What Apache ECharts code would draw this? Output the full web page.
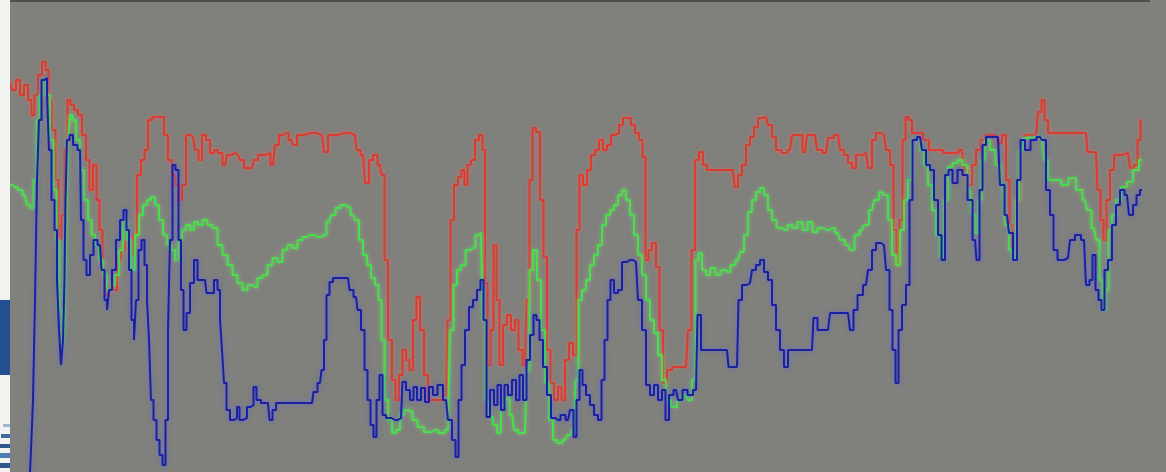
<!DOCTYPE html>
<html>
<head>
<meta charset="utf-8">
<script src="https://cdn.jsdelivr.net/npm/echarts@6/dist/echarts.min.js"></script>
<style>
html,body{margin:0;padding:0;background:#80807c;}
#c{width:1166px;height:472px;}
</style>
</head>
<body>
<div id="c"></div>
<script>
// Readings: x position (time index) and level (inverted scale, 0 = top)
const redX = [10,14,18,22,26,30,33,36,40,44,47,50,54,57,60,63,66,69,72,76,80,84,88,91,95,98,101,104,107,111,115,119,123,127,131,135,139,143,146,150,154,158,162,166,170,174,177,180,184,188,193,197,200,204,208,212,216,220,225,229,233,238,242,246,252,256,260,264,268,273,277,281,286,291,295,299,310,322,326,330,345,355,358,363,367,371,375,380,383,386,390,394,397,401,404,408,411,415,418,422,426,430,440,446,449,452,456,460,463,466,469,473,477,481,484,486,489,492,495,498,501,505,509,513,517,520,525,528,531,534,538,542,545,549,552,556,560,563,567,571,575,578,581,585,589,593,597,601,605,609,613,617,621,625,629,633,637,641,644,647,650,654,658,661,665,669,675,686,690,693,697,701,705,709,720,733,736,740,744,748,752,756,760,766,770,774,778,785,790,794,800,805,809,815,819,826,830,838,842,846,850,854,858,866,870,874,878,884,888,892,895,898,901,904,907,910,914,920,926,932,940,946,955,962,966,970,974,978,983,988,996,1000,1004,1008,1011,1014,1018,1022,1026,1036,1040,1043,1046,1050,1070,1086,1089,1096,1099,1102,1105,1108,1112,1116,1128,1132,1136,1139,1142];
const redY = [82,90,80,95,85,100,115,95,75,62,70,100,130,180,240,215,150,100,105,110,115,135,160,190,165,200,230,275,295,285,290,260,250,240,255,235,175,160,150,120,117,117,117,135,160,175,185,200,185,135,137,150,160,135,140,153,150,153,165,155,153,155,160,168,168,160,155,155,153,165,145,135,133,140,145,135,133,135,152,135,133,135,150,155,183,160,155,165,175,260,340,380,400,375,350,360,370,320,297,330,375,400,400,395,320,220,185,177,170,185,165,160,140,135,150,283,365,330,245,300,365,325,315,330,320,350,365,300,180,128,132,200,257,350,383,400,387,400,360,343,355,230,175,185,170,155,150,140,150,145,135,133,125,118,118,125,133,140,157,260,250,243,267,330,383,370,367,367,330,250,160,152,165,170,170,170,187,175,165,145,137,127,118,117,125,137,150,153,150,135,135,152,135,135,150,153,138,135,150,155,163,168,155,153,168,140,133,135,150,165,230,265,220,140,117,120,133,133,140,150,150,153,153,150,170,185,165,150,140,135,135,143,135,180,225,250,200,150,135,135,112,100,120,133,133,133,152,153,190,220,240,200,170,155,153,168,165,140,120];

const greenX = [10,15,20,25,29,32,35,38,41,44,48,52,55,58,61,63,65,67,69,71,74,78,82,86,90,93,97,101,105,109,113,117,121,125,129,133,137,141,145,149,153,157,161,165,169,173,177,180,184,188,192,196,200,205,210,215,220,225,230,235,240,245,250,255,260,265,270,275,280,285,290,295,300,305,310,318,324,329,333,338,343,348,353,357,361,365,369,373,377,380,383,386,390,394,398,402,406,410,415,420,428,435,442,448,452,455,459,463,468,473,478,481,484,487,491,495,499,503,507,512,516,520,525,528,531,535,539,543,547,551,555,560,565,569,574,577,580,584,588,592,596,600,604,608,612,616,620,624,628,632,636,640,644,648,652,656,660,664,668,674,680,686,690,694,697,700,704,708,713,718,723,728,733,738,742,746,750,754,758,762,766,770,774,779,785,790,795,800,805,810,815,820,826,832,838,842,848,852,857,862,866,872,876,882,886,890,894,898,902,906,910,914,918,922,926,930,934,938,942,946,950,955,960,965,970,974,977,980,983,987,993,998,1003,1007,1011,1014,1018,1021,1025,1035,1042,1046,1050,1058,1065,1072,1080,1085,1089,1094,1098,1101,1104,1107,1110,1114,1118,1124,1130,1136,1142];
const greenY = [185,187,190,195,205,208,180,120,95,80,95,140,190,240,310,350,330,250,140,115,120,140,170,200,220,235,245,260,275,290,285,275,250,220,240,270,235,215,205,200,197,205,220,235,245,250,260,240,230,225,230,222,225,220,225,228,245,255,265,275,283,290,285,287,278,275,265,258,262,250,245,248,240,237,235,237,235,222,215,208,205,207,215,220,240,255,265,278,285,300,340,400,420,433,430,415,410,412,420,427,432,430,433,430,330,285,270,265,250,248,235,233,320,400,417,425,433,405,398,415,430,433,433,370,270,250,280,330,383,420,440,443,440,435,430,380,300,290,280,265,255,245,225,215,210,205,195,190,200,215,235,255,275,300,320,333,355,380,400,407,400,395,400,380,260,253,270,275,268,275,270,272,265,260,252,235,212,200,192,188,195,210,220,228,230,225,228,222,230,222,232,228,230,228,233,240,245,250,235,230,225,210,200,192,195,220,255,265,230,200,180,140,140,150,165,185,210,235,257,200,167,163,160,165,190,215,233,200,160,140,150,165,185,225,250,258,200,150,138,137,138,160,180,180,185,178,190,200,210,228,240,280,310,290,230,215,200,187,182,170,160];

const blueX = [30,32,34,36,38,40,43,46,48,50,53,56,58,60,62,64,65,66,68,71,75,80,82,85,88,92,95,100,103,106,108,110,114,118,122,125,128,130,133,135,137,140,143,146,148,150,152,155,158,161,164,167,169,171,174,177,180,182,185,188,192,196,199,205,208,212,216,219,221,223,225,228,232,236,238,241,245,249,252,255,258,264,268,271,274,278,290,312,315,320,323,325,328,331,335,348,351,356,359,363,366,369,372,375,378,381,384,388,395,401,404,408,412,415,419,423,427,431,435,440,446,450,454,457,460,463,467,471,475,479,482,485,488,492,496,499,503,506,510,514,518,521,525,528,532,535,538,541,545,549,553,558,563,568,572,575,578,581,584,588,592,596,600,603,606,609,612,616,620,624,630,636,640,644,648,652,656,660,664,667,671,676,680,685,690,696,699,703,715,727,730,737,740,744,750,754,758,762,766,770,774,778,782,786,790,800,812,815,820,828,832,848,852,855,860,866,870,874,878,884,888,891,894,897,900,904,908,911,914,920,924,928,932,936,940,943,947,950,955,960,965,970,975,978,981,984,988,998,1002,1007,1011,1015,1019,1022,1028,1033,1040,1044,1048,1052,1055,1060,1068,1072,1078,1084,1088,1091,1094,1097,1100,1103,1106,1110,1114,1118,1122,1127,1131,1135,1138,1142];
const blueY = [472,450,400,300,180,120,80,78,95,150,200,230,280,330,365,340,280,200,140,135,145,150,220,260,275,255,240,245,270,300,310,290,270,240,220,210,230,270,320,340,300,250,240,265,300,340,400,420,440,455,465,420,330,240,165,170,240,290,330,313,283,260,280,280,293,293,280,290,320,350,383,410,420,418,407,420,418,407,405,387,400,403,403,420,410,403,403,403,392,383,370,340,295,282,278,278,290,297,310,330,370,400,425,437,400,375,415,418,420,418,382,390,400,387,400,388,402,387,395,385,400,420,440,457,400,365,330,307,300,290,280,320,417,390,405,385,410,385,395,380,400,375,400,360,335,315,320,340,367,395,418,420,415,420,410,437,400,370,385,395,405,415,420,380,340,300,280,293,290,262,260,262,300,330,385,395,385,400,390,420,395,390,400,390,395,390,315,350,350,350,367,367,300,285,283,270,265,260,272,280,305,330,350,367,350,350,350,318,330,330,313,313,330,310,295,285,270,250,243,245,270,310,350,383,330,305,285,200,140,137,150,165,170,200,235,260,175,170,183,170,175,200,240,260,190,145,137,137,185,215,233,260,180,140,150,140,137,140,190,215,250,260,258,240,235,240,285,280,255,290,300,310,270,260,225,205,190,195,215,205,195,190];

function zip(xs, ys){ return xs.map((x,i)=>[x, ys[i]]); }

const chart = echarts.init(document.getElementById('c'), null, {renderer:'canvas'});
chart.setOption({
  animation:false,
  backgroundColor:'#80807c',
  grid:{left:0,right:0,top:0,bottom:0},
  xAxis:{type:'value',min:0,max:1166,show:false},
  yAxis:{type:'value',min:0,max:472,inverse:true,show:false},
  graphic:[
    {type:'rect',shape:{x:0,y:0,width:10,height:472},style:{fill:'#f2f2f0'},z:100},
    {type:'rect',shape:{x:0,y:300,width:10,height:75},style:{fill:'#23508f'},z:101},
    {type:'rect',shape:{x:3,y:424,width:7,height:3},style:{fill:'#9fb4cf'},z:101},
    {type:'rect',shape:{x:1,y:434,width:9,height:4},style:{fill:'#3f6aa0'},z:101},
    {type:'rect',shape:{x:0,y:444,width:10,height:4},style:{fill:'#2d5890'},z:101},
    {type:'rect',shape:{x:0,y:453,width:10,height:5},style:{fill:'#4f7bb0'},z:101},
    {type:'rect',shape:{x:0,y:463,width:10,height:5},style:{fill:'#2d5890'},z:101},
    {type:'rect',shape:{x:10,y:0,width:1140,height:2},style:{fill:'#4e4f4c'},z:101}
  ],
  series:[
    {type:'line',data:zip(redX,redY),showSymbol:false,z:2,step:'middle',
     lineStyle:{color:'#dc3c30',width:2,shadowColor:'rgba(240,110,100,0.7)',shadowBlur:4}},
    {type:'line',data:zip(greenX,greenY),showSymbol:false,z:3,step:'middle',
     lineStyle:{color:'#48e048',width:2,shadowColor:'rgba(120,240,120,0.6)',shadowBlur:4}},
    {type:'line',data:zip(blueX,blueY),showSymbol:false,z:4,step:'middle',
     lineStyle:{color:'#1a20a0',width:2,shadowColor:'rgba(90,100,230,0.8)',shadowBlur:4}}
  ]
});
</script>
</body>
</html>
